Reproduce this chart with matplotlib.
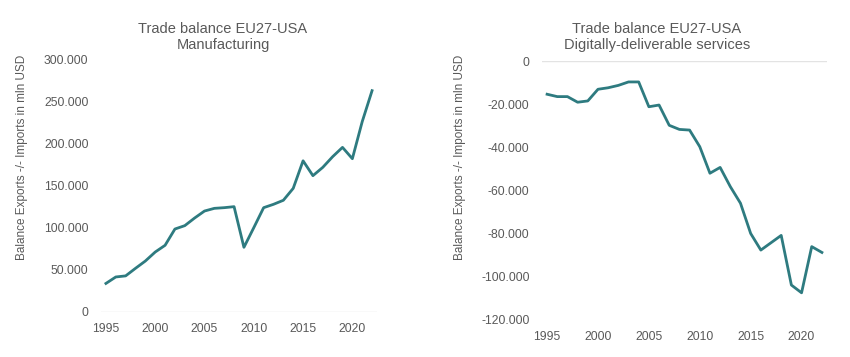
#!/usr/bin/env python3
"""Trade balance EU27-USA: manufacturing vs digitally-deliverable services."""
import numpy as np
import matplotlib
matplotlib.use("Agg")
import matplotlib.pyplot as plt
from matplotlib.ticker import FuncFormatter, MultipleLocator

years = list(range(1995, 2023))

# mln USD
manufacturing = [34000, 41700, 43000, 52000, 60700, 71400, 79400, 98800, 102800,
                 111900, 120200, 123400, 124200, 125400, 77000, 100400, 124200,
                 128200, 133000, 147200, 180000, 162300, 172200, 184900, 196000,
                 182500, 226600, 263500]
digital_services = [-15400, -16500, -16500, -19100, -18500, -13100, -12400, -11300,
                    -9700, -9700, -21200, -20400, -29800, -31700, -32000, -39700,
                    -52000, -49300, -58200, -65900, -79900, -87600, -84200, -80800,
                    -103800, -107400, -86000, -88700]

LINE = "#2E7B80"
TEXT = "#595959"
FONT = "Liberation Sans"
W, H = 850, 357


def thousands(v, _pos):
    s = f"{abs(int(round(v))):,}".replace(",", ".")
    return ("-" if v < 0 else "") + s


def px_axes(fig, left, top, right, bottom):
    return fig.add_axes([left / W, (H - bottom) / H, (right - left) / W, (bottom - top) / H])


def style(ax, ylim, step):
    ax.set_xlim(1994.5, 2022.5)
    ax.set_ylim(*ylim)
    ax.yaxis.set_major_locator(MultipleLocator(step))
    ax.yaxis.set_major_formatter(FuncFormatter(thousands))
    ax.set_xticks([1995, 2000, 2005, 2010, 2015, 2020])
    for s in ax.spines.values():
        s.set_visible(False)
    ax.axhline(0, color="#E3E3E3", lw=1.0, zorder=1)
    ax.tick_params(length=0, labelsize=8.7, labelcolor=TEXT)
    ax.tick_params(axis="y", pad=9)
    ax.tick_params(axis="x", pad=8)
    for lab in ax.get_xticklabels() + ax.get_yticklabels():
        lab.set_fontfamily(FONT)


fig = plt.figure(figsize=(W / 100, H / 100), dpi=100)

ax1 = px_axes(fig, 101, 60, 377, 312)
ax1.plot(years, manufacturing, color=LINE, lw=2.0, zorder=3)
style(ax1, (0, 300000), 50000)

ax2 = px_axes(fig, 542, 61, 827, 320)
ax2.plot(years, digital_services, color=LINE, lw=2.0, zorder=3)
style(ax2, (-120000, 0), 20000)

ylab = "Balance Exports -/- Imports in mln USD"
fig.text(22 / W, 1 - 157 / H, ylab, rotation=90, ha="center", va="center",
         fontsize=8.5, color=TEXT, family=FONT)
fig.text(460 / W, 1 - 157 / H, ylab, rotation=90, ha="center", va="center",
         fontsize=8.5, color=TEXT, family=FONT)

fig.text(223 / W, 1 - 37 / H, "Trade balance EU27-USA\nManufacturing", ha="center",
         va="center", fontsize=10.5, color=TEXT, family=FONT, linespacing=1.15)
fig.text(657 / W, 1 - 37 / H, "Trade balance EU27-USA\nDigitally-deliverable services",
         ha="center", va="center", fontsize=10.5, color=TEXT, family=FONT, linespacing=1.15)

fig.savefig("out.png", dpi=100)
plt.close(fig)
